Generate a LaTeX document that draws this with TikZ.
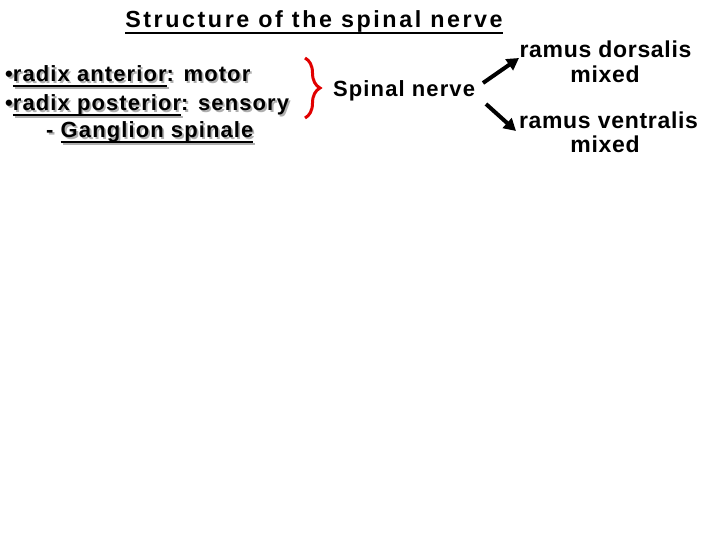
\documentclass[tikz,border=0pt]{standalone}
\usepackage{fontspec}
\setmainfont{Liberation Sans}
\newfontfamily\titlefont[LetterSpace=11]{Liberation Sans}
\newfontfamily\bodyfont[LetterSpace=5]{Liberation Sans}
\newfontfamily\rightfont[LetterSpace=3]{Liberation Sans}
\usetikzlibrary{decorations.pathreplacing,arrows.meta}
\definecolor{shadowgray}{RGB}{175,175,175}
\definecolor{bracered}{RGB}{225,0,0}
\newcommand\ulx[1]{\setbox0\hbox{#1}\rlap{\rule[-5pt]{\wd0}{2pt}}\box0}
\newcommand\ulT[1]{\setbox0\hbox{#1}\rlap{\rule[-7pt]{\wd0}{2.8pt}}\box0}
\newcommand\shd[1]{\makebox[0pt][l]{\hspace{1.8pt}\raisebox{-1.8pt}{\color{shadowgray}#1}}#1}
\tikzset{
  titletext/.style={inner sep=0pt, font=\titlefont\bfseries\fontsize{23.3}{28}\selectfont},
  bodytext/.style={inner sep=0pt, font=\bodyfont\bfseries\fontsize{22}{26}\selectfont},
  righttext/.style={inner sep=0pt, font=\rightfont\bfseries\fontsize{23}{26}\selectfont},
  thickarrow/.style={line width=4pt, -{Triangle[length=12pt,width=13pt]}},
}
\begin{document}
\begin{tikzpicture}[x=1pt,y=1pt]
\useasboundingbox (0,0) rectangle (720,-540);
% title
\node[titletext, anchor=base] (title) at (314,-27.5) {\ulT{Structure of the spinal nerve}};
% left column
\node[bodytext, anchor=base west] (ant) at (5,-82) {\shd{•\ulx{radix anterior}: motor}};
\node[bodytext, anchor=base west] (post) at (5,-111) {\shd{•\ulx{radix posterior}: sensory}};
\node[bodytext, anchor=base west] (gang) at (46,-138) {\shd{- \ulx{Ganglion spinale}}};
% brace
\coordinate (btop) at (305,-58);
\coordinate (bbot) at (305,-118);
\draw[bracered, line width=3pt, decorate, decoration={brace, amplitude=15pt}] (btop) -- (bbot);
% spinal nerve
\node[bodytext, anchor=base west] (spinal) at (333,-97) {Spinal nerve};
% right texts
\node[righttext, anchor=base] (dors) at (605.5,-58) {ramus dorsalis};
\node[righttext, anchor=base] (dorsm) at (605,-83) {mixed};
\node[righttext, anchor=base] (vent) at (608.5,-129) {ramus ventralis};
\node[righttext, anchor=base] (ventm) at (605,-152.5) {mixed};
% arrows
\coordinate (a1s) at (483,-83);
\coordinate (a1e) at (519,-58);
\coordinate (a2s) at (486,-104);
\coordinate (a2e) at (516,-131);
\draw[thickarrow] (a1s) -- (a1e);
\draw[thickarrow] (a2s) -- (a2e);
\end{tikzpicture}
\end{document}
